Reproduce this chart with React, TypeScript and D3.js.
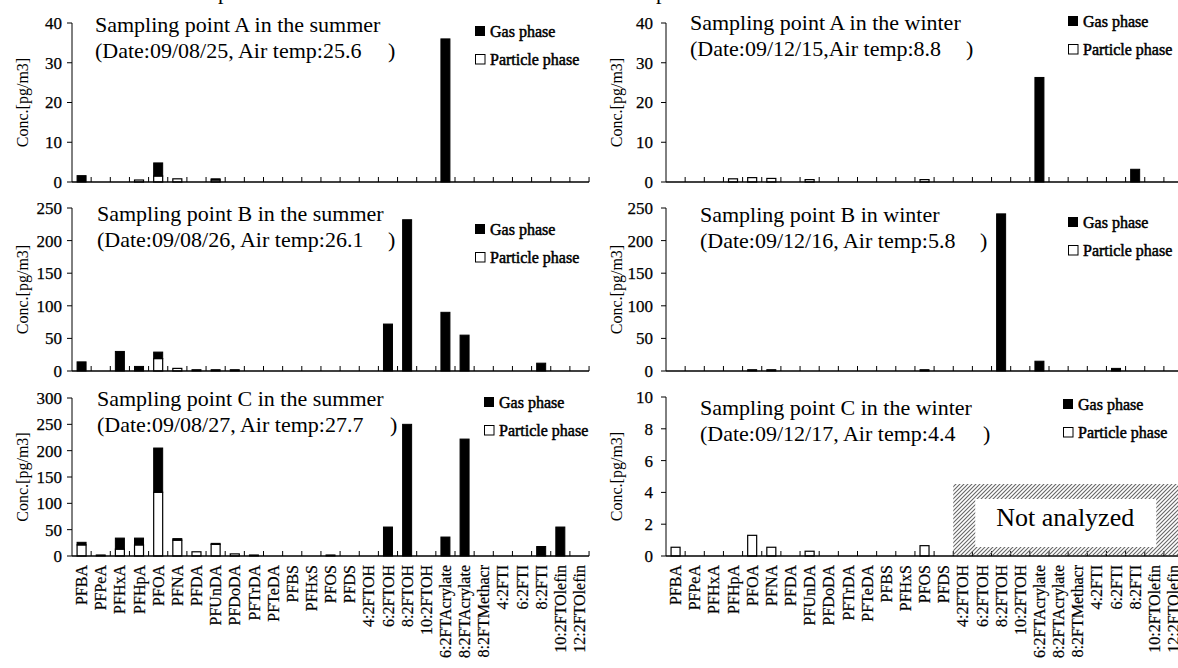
import React from 'react';
import * as d3 from 'd3';

// compound names on the x axis
const categories = [
  'PFBA', 'PFPeA', 'PFHxA', 'PFHpA', 'PFOA', 'PFNA', 'PFDA', 'PFUnDA', 'PFDoDA',
  'PFTrDA', 'PFTeDA', 'PFBS', 'PFHxS', 'PFOS', 'PFDS', '4:2FTOH', '6:2FTOH',
  '8:2FTOH', '10:2FTOH', '6:2FTAcrylate', '8:2FTAcrylate', '8:2FTMethacr',
  '4:2FTI', '6:2FTI', '8:2FTI', '10:2FTOlefin', '12:2FTOlefin',
];

// concentrations [pg/m3], one value per category
const summerAGas = [1.6, 0, 0, 0, 3.3, 0, 0, 0.3, 0, 0, 0, 0, 0, 0, 0, 0, 0, 0, 0, 36, 0, 0, 0, 0, 0, 0, 0];
const summerAParticle = [0, 0, 0, 0.5, 1.5, 0.8, 0, 0.5, 0, 0, 0, 0, 0, 0, 0, 0, 0, 0, 0, 0, 0, 0, 0, 0, 0, 0, 0];
const summerBGas = [14, 0, 30, 7, 10, 0, 2, 2, 2, 0, 0, 0, 0, 0, 0, 0, 72, 232, 0, 90, 55, 0, 0, 0, 12, 0, 0];
const summerBParticle = [0, 0, 0, 0, 19, 4, 0, 0, 0, 0, 0, 0, 0, 0, 0, 0, 0, 0, 0, 0, 0, 0, 0, 0, 0, 0, 0];
const summerCGas = [5, 2, 21, 13, 84, 3, 0, 2, 0, 2, 0, 0, 0, 2, 0, 0, 55, 250, 0, 36, 222, 0, 0, 0, 18, 55, 0];
const summerCParticle = [21, 0, 13, 21, 121, 30, 8, 22, 4, 0, 0, 0, 0, 0, 0, 0, 0, 0, 0, 0, 0, 0, 0, 0, 0, 0, 0];
const winterAGas = [0, 0, 0, 0, 0, 0, 0, 0, 0, 0, 0, 0, 0, 0, 0, 0, 0, 0, 0, 26.3, 0, 0, 0, 0, 3.2, 0, 0];
const winterAParticle = [0, 0, 0, 0.8, 1.1, 0.9, 0, 0.6, 0, 0, 0, 0, 0, 0.6, 0, 0, 0, 0, 0, 0, 0, 0, 0, 0, 0, 0, 0];
const winterBGas = [0, 0, 0, 0, 2, 2, 0, 0, 0, 0, 0, 0, 0, 2, 0, 0, 0, 241, 0, 15, 0, 0, 0, 4, 0, 0, 0];
const winterBParticle = [0, 0, 0, 0, 0, 0, 0, 0, 0, 0, 0, 0, 0, 0, 0, 0, 0, 0, 0, 0, 0, 0, 0, 0, 0, 0, 0];
const winterCGas = [0, 0, 0, 0, 0, 0, 0, 0, 0, 0, 0, 0, 0, 0, 0, 0, 0, 0, 0, 0, 0, 0, 0, 0, 0, 0, 0];
const winterCParticle = [0.55, 0, 0, 0, 1.3, 0.55, 0, 0.3, 0, 0, 0, 0, 0, 0.65, 0, 0, 0, 0, 0, 0, 0, 0, 0, 0, 0, 0, 0];

// y axis maxima and steps
const yMax = { A: 40, B: 250, CSummer: 300, CWinter: 10 };
const yStep = { A: 10, B: 50, CSummer: 50, CWinter: 2 };

const titles = [
  ['Sampling point A in the summer', '(Date:09/08/25, Air temp:25.6'],
  ['Sampling point B in the summer', '(Date:09/08/26, Air temp:26.1'],
  ['Sampling point C in the summer', '(Date:09/08/27, Air temp:27.7'],
  ['Sampling point A in the winter', '(Date:09/12/15,Air temp:8.8'],
  ['Sampling point B in winter', '(Date:09/12/16, Air temp:5.8'],
  ['Sampling point C in the winter', '(Date:09/12/17, Air temp:4.4'],
];

const FONT = '"Liberation Serif", "Times New Roman", serif';
const W = 1178;
const H = 668;
const STEP = 19.15;
const PLOT_W = STEP * categories.length;

type Panel = {
  x0: number; top: number; bottom: number; max: number; step: number;
  gas: number[]; particle: number[]; title: string[];
  tx: number; ty: number; paren: number; lx: number; ly: number;
  labelGap: number; yTitleX: number; showX: boolean; notAnalyzed?: boolean;
};

const panels: Panel[] = [
  { x0: 72, top: 23, bottom: 182, max: yMax.A, step: yStep.A, gas: summerAGas, particle: summerAParticle, title: titles[0], tx: 95, ty: 32, paren: 388, lx: 475, ly: 37, labelGap: 10, yTitleX: 28, showX: false },
  { x0: 72, top: 208, bottom: 371, max: yMax.B, step: yStep.B, gas: summerBGas, particle: summerBParticle, title: titles[1], tx: 97, ty: 221, paren: 388, lx: 475, ly: 235, labelGap: 10, yTitleX: 28, showX: false },
  { x0: 72, top: 398, bottom: 556, max: yMax.CSummer, step: yStep.CSummer, gas: summerCGas, particle: summerCParticle, title: titles[2], tx: 97, ty: 406, paren: 390, lx: 484, ly: 408, labelGap: 10, yTitleX: 28, showX: true },
  { x0: 666, top: 23, bottom: 182, max: yMax.A, step: yStep.A, gas: winterAGas, particle: winterAParticle, title: titles[3], tx: 690, ty: 30, paren: 966, lx: 1068, ly: 27, labelGap: 13, yTitleX: 622, showX: false },
  { x0: 666, top: 208, bottom: 371, max: yMax.B, step: yStep.B, gas: winterBGas, particle: winterBParticle, title: titles[4], tx: 700, ty: 222, paren: 980, lx: 1068, ly: 228, labelGap: 13, yTitleX: 622, showX: false },
  { x0: 666, top: 397, bottom: 556, max: yMax.CWinter, step: yStep.CWinter, gas: winterCGas, particle: winterCParticle, title: titles[5], tx: 700, ty: 415, paren: 983, lx: 1063, ly: 410, labelGap: 13, yTitleX: 622, showX: true, notAnalyzed: true },
];

function BarPanel({ p }: { p: Panel }) {
  const x = d3.scaleBand<string>().domain(categories).range([p.x0, p.x0 + PLOT_W]).padding(0);
  const y = d3.scaleLinear().domain([0, p.max]).range([p.bottom, p.top]);
  const bw = x.bandwidth() * 0.47;
  const ticks = d3.range(0, p.max + p.step / 2, p.step);
  const midY = (p.top + p.bottom) / 2;

  return (
    <g>
      {/* y axis */}
      <line x1={p.x0} x2={p.x0} y1={p.top} y2={p.bottom} stroke="#000" strokeWidth={1} />
      {ticks.map((t) => (
        <g key={t}>
          <line x1={p.x0 - 5} x2={p.x0} y1={y(t)} y2={y(t)} stroke="#000" />
          <text x={p.x0 - p.labelGap} y={y(t)} dy="0.35em" textAnchor="end" fontSize={17} stroke="#000" strokeWidth={0.25}>{t}</text>
        </g>
      ))}
      <text transform={`translate(${p.yTitleX},${midY}) rotate(-90)`} textAnchor="middle" fontSize={16}>Conc.[pg/m3]</text>

      {/* bars: particle at the bottom, gas stacked on top */}
      {categories.map((c, i) => {
        const cx = (x(c) as number) + x.bandwidth() / 2;
        const pv = p.particle[i];
        const gv = p.gas[i];
        return (
          <g key={c}>
            {pv > 0 && (
              <rect x={cx - bw / 2} y={y(pv)} width={bw} height={y(0) - y(pv)} fill="#fff" stroke="#000" strokeWidth={1.2} />
            )}
            {gv > 0 && (
              <rect x={cx - bw / 2} y={y(pv + gv)} width={bw} height={y(pv) - y(pv + gv)} fill="#000" stroke="#000" strokeWidth={1} />
            )}
          </g>
        );
      })}

      {/* x axis with ticks between categories */}
      <line x1={p.x0} x2={p.x0 + PLOT_W} y1={p.bottom} y2={p.bottom} stroke="#000" strokeWidth={1.6} />
      {d3.range(1, categories.length + 1).map((k) => (
        <line key={k} x1={p.x0 + k * x.step()} x2={p.x0 + k * x.step()} y1={p.bottom} y2={p.bottom - 5} stroke="#000" />
      ))}
      {p.showX && categories.map((c) => (
        <text key={c} transform={`translate(${(x(c) as number) + x.bandwidth() / 2},${p.bottom + 9}) rotate(-90)`} dy="0.35em" textAnchor="end" fontSize={16} stroke="#000" strokeWidth={0.2}>{c}</text>
      ))}

      {/* title */}
      <text x={p.tx} y={p.ty} fontSize={22}>{p.title[0]}</text>
      <text x={p.tx} y={p.ty + 26} fontSize={22}>{p.title[1]}</text>
      <text x={p.paren} y={p.ty + 26} fontSize={22}>)</text>

      {/* legend */}
      <rect x={p.lx} y={p.ly - 11} width={10} height={10} fill="#000" />
      <text x={p.lx + 15} y={p.ly} fontSize={16} stroke="#000" strokeWidth={0.5}>Gas phase</text>
      <rect x={p.lx + 0.5} y={p.ly + 28 - 10.5} width={9.5} height={9.5} fill="#fff" stroke="#000" strokeWidth={1} />
      <text x={p.lx + 15} y={p.ly + 28} fontSize={16} stroke="#000" strokeWidth={0.5}>Particle phase</text>

      {p.notAnalyzed && (() => {
        const left = x(categories[15]) as number;
        const top = p.bottom - 72;
        return (
          <g>
            <rect x={left} y={top} width={W - left + 20} height={p.bottom - top - 1} fill="url(#hatch)" />
            <rect x={left + 22} y={top + 15} width={181} height={48} fill="#fff" />
            <text x={left + 22 + 90} y={top + 42} textAnchor="middle" fontSize={26}>Not analyzed</text>
          </g>
        );
      })()}
    </g>
  );
}

export default function App() {
  return (
    <svg width={W} height={H} style={{ position: 'absolute', left: 0, top: 0, background: '#fff' }} fontFamily={FONT}>
      <defs>
        <pattern id="hatch" patternUnits="userSpaceOnUse" width={4} height={4}>
          <path d="M-1,1 l2,-2 M0,4 l4,-4 M3,5 l2,-2" stroke="#666" strokeWidth={1.1} />
        </pattern>
      </defs>
      <rect width={W} height={H} fill="#fff" />
      {/* descenders of a cropped heading above the figure */}
      <text x={218} y={-1} fontSize={22}>p</text>
      <text x={656} y={-1} fontSize={22}>p</text>
      {panels.map((p, i) => <BarPanel key={i} p={p} />)}
    </svg>
  );
}
